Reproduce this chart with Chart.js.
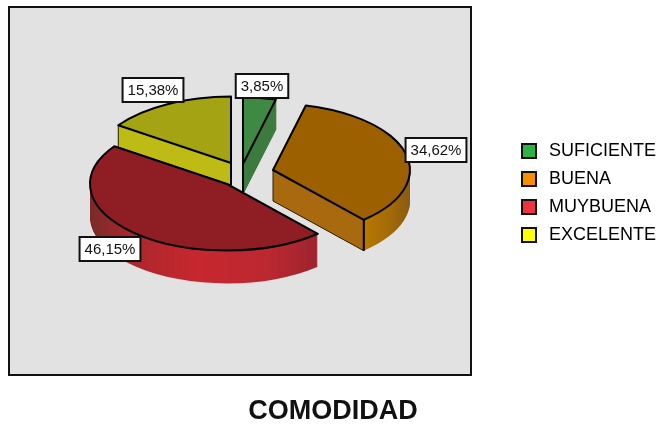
<!DOCTYPE html>
<html>
<head>
<meta charset="utf-8">
<style>html,body{margin:0;padding:0;background:#fff}canvas{display:block}</style>
<script src="https://cdn.jsdelivr.net/npm/chart.js@4"></script>
</head>
<body>
<canvas id="c" width="658" height="424"></canvas>
<script>
const categories = ['SUFICIENTE', 'BUENA', 'MUYBUENA', 'EXCELENTE'];
const percentages = [3.85, 34.62, 46.15, 15.38];
const chartTitle = 'COMODIDAD';

const legendColors = ['#2bb34a', '#f58f00', '#ee3340', '#ffff00'];
const topColors = ['#3f8a42', '#9d6000', '#8f1d24', '#a3a314'];

const FONT = '"Liberation Sans", Arial, sans-serif';
const RADIUS = 137, TILT = 0.485;
const panel = {l: 9, t: 7, r: 471, b: 375};
const sliceCentres = [{x: 243, y: 164}, {x: 273, y: 170}, {x: 227, y: 184}, {x: 231, y: 163}];
const sliceDepths = [30, 31, 33, 22];
const drawOrder = [3, 0, 1, 2];
const rimStops = [
  [[0, '#3d7a40'], [1, '#3d7a40']],
  [[0, '#b87802'], [0.83, '#b87802'], [0.92, '#a46c08'], [1, '#8a5a12']],
  [[0, '#7a2a28'], [0.14, '#a8282c'], [0.4, '#c8272f'], [0.65, '#bb2830'], [0.82, '#a0242e'], [1, '#a0242e']],
  [[0, '#bdbb14'], [1, '#bdbb14']]
];
const cutFaces = [{edge: 'endAngle', color: '#3d7a40'}, {edge: 'endAngle', color: '#a9690e'}, null, {edge: 'startAngle', color: '#bdbb14'}];
const labelCentres = [{x: 262, y: 86}, {x: 436, y: 150}, {x: 110, y: 249}, {x: 153, y: 90}];

function legendSwatch(color) {
  const s = document.createElement('canvas');
  s.width = 16; s.height = 16;
  const g = s.getContext('2d');
  g.fillStyle = color; g.fillRect(1, 1, 14, 14);
  g.strokeStyle = '#111'; g.lineWidth = 2; g.strokeRect(1, 1, 14, 14);
  return s;
}

const pie3d = {
  id: 'pie3d',
  afterLayout(chart) {
    const lg = chart.legend, tb = chart.titleBlock;
    lg.left += 8; lg.right += 8; lg.top -= 19; lg.bottom -= 19;
    tb.top += 4; tb.bottom += 4;
  },
  beforeDraw(chart) {
    const ctx = chart.ctx;
    ctx.save();
    ctx.fillStyle = '#fff'; ctx.fillRect(0, 0, chart.width, chart.height);
    ctx.fillStyle = '#e2e2e2'; ctx.fillRect(panel.l, panel.t, panel.r - panel.l, panel.b - panel.t);
    ctx.strokeStyle = '#111'; ctx.lineWidth = 2; ctx.strokeRect(panel.l, panel.t, panel.r - panel.l, panel.b - panel.t);
    ctx.restore();
  },
  beforeDatasetsDraw(chart) {
    const ctx = chart.ctx, meta = chart.getDatasetMeta(0);
    const place = (el, c, dy) => {
      ctx.translate(c.x, c.y + dy); ctx.scale(1, TILT); ctx.translate(-el.x, -el.y);
    };
    const paint = (el, fill) => {
      const saved = el.options;
      el.options = {...saved, backgroundColor: fill, borderWidth: 0};
      el.draw(ctx);
      el.options = saved;
    };
    const radial = (el, c, angle, dy) => ({
      x: c.x + Math.cos(angle) * el.outerRadius,
      y: c.y + dy + Math.sin(angle) * el.outerRadius * TILT
    });
    drawOrder.forEach(i => {
      const el = meta.data[i], c = sliceCentres[i], depth = sliceDepths[i];
      for (let d = depth; d >= 1; d--) {
        ctx.save();
        place(el, c, d);
        const g = ctx.createLinearGradient(el.x - RADIUS, 0, el.x + RADIUS, 0);
        rimStops[i].forEach(s => g.addColorStop(s[0], s[1]));
        paint(el, g);
        ctx.restore();
      }
      const face = cutFaces[i];
      if (face) {
        const p = radial(el, c, el[face.edge], 0);
        ctx.save();
        ctx.beginPath();
        ctx.moveTo(c.x, c.y); ctx.lineTo(p.x, p.y); ctx.lineTo(p.x, p.y + depth); ctx.lineTo(c.x, c.y + depth);
        ctx.closePath();
        ctx.fillStyle = face.color; ctx.fill();
        ctx.strokeStyle = i === 0 ? '#3d7a40' : '#2a2206'; ctx.lineWidth = 1; ctx.stroke();
        ctx.beginPath();
        const hard = i === 1 ? p : c;
        ctx.moveTo(hard.x, hard.y); ctx.lineTo(hard.x, hard.y + depth);
        ctx.strokeStyle = '#000'; ctx.lineWidth = 2; ctx.stroke();
        ctx.restore();
      }
      ctx.save(); place(el, c, 0); paint(el, topColors[i]); ctx.restore();
      ctx.save();
      ctx.beginPath();
      ctx.save(); place(el, c, 0);
      ctx.moveTo(el.x, el.y);
      ctx.arc(el.x, el.y, el.outerRadius, el.startAngle, el.endAngle);
      ctx.closePath();
      ctx.restore();
      ctx.strokeStyle = '#000'; ctx.lineWidth = 2; ctx.lineJoin = 'round'; ctx.stroke();
      ctx.restore();
    });
    ctx.save();
    ctx.font = '15px ' + FONT; ctx.textAlign = 'center'; ctx.textBaseline = 'middle';
    percentages.forEach((v, i) => {
      const t = v.toFixed(2).replace('.', ',') + '%';
      const w = ctx.measureText(t).width + 10, h = 24, p = labelCentres[i];
      ctx.fillStyle = '#fff'; ctx.fillRect(p.x - w / 2, p.y - h / 2, w, h);
      ctx.strokeStyle = '#111'; ctx.lineWidth = 2; ctx.strokeRect(p.x - w / 2, p.y - h / 2, w, h);
      ctx.fillStyle = '#111'; ctx.fillText(t, p.x, p.y + 1);
    });
    ctx.restore();
    return false;
  }
};

new Chart(document.getElementById('c'), {
  type: 'pie',
  plugins: [pie3d],
  data: {
    labels: categories,
    datasets: [{data: percentages, backgroundColor: legendColors, borderColor: '#000', borderWidth: 0}]
  },
  options: {
    responsive: false,
    animation: false,
    radius: RADIUS,
    layout: {padding: {left: 8, top: 0, right: 0, bottom: 0}},
    plugins: {
      tooltip: {enabled: false},
      title: {
        display: true, text: chartTitle, position: 'bottom', color: '#111',
        font: {family: FONT, size: 27, weight: 'bold'}, padding: {top: 0, bottom: 0}
      },
      legend: {
        position: 'right',
        labels: {
          color: '#111',
          font: {family: FONT, size: 18},
          usePointStyle: true,
          pointStyleWidth: 22,
          padding: 10,
          generateLabels: () => categories.map((text, i) => ({
            text, index: i, fillStyle: legendColors[i], strokeStyle: '#111', lineWidth: 2,
            pointStyle: legendSwatch(legendColors[i]), hidden: false
          }))
        }
      }
    }
  }
});
</script>
</body>
</html>
